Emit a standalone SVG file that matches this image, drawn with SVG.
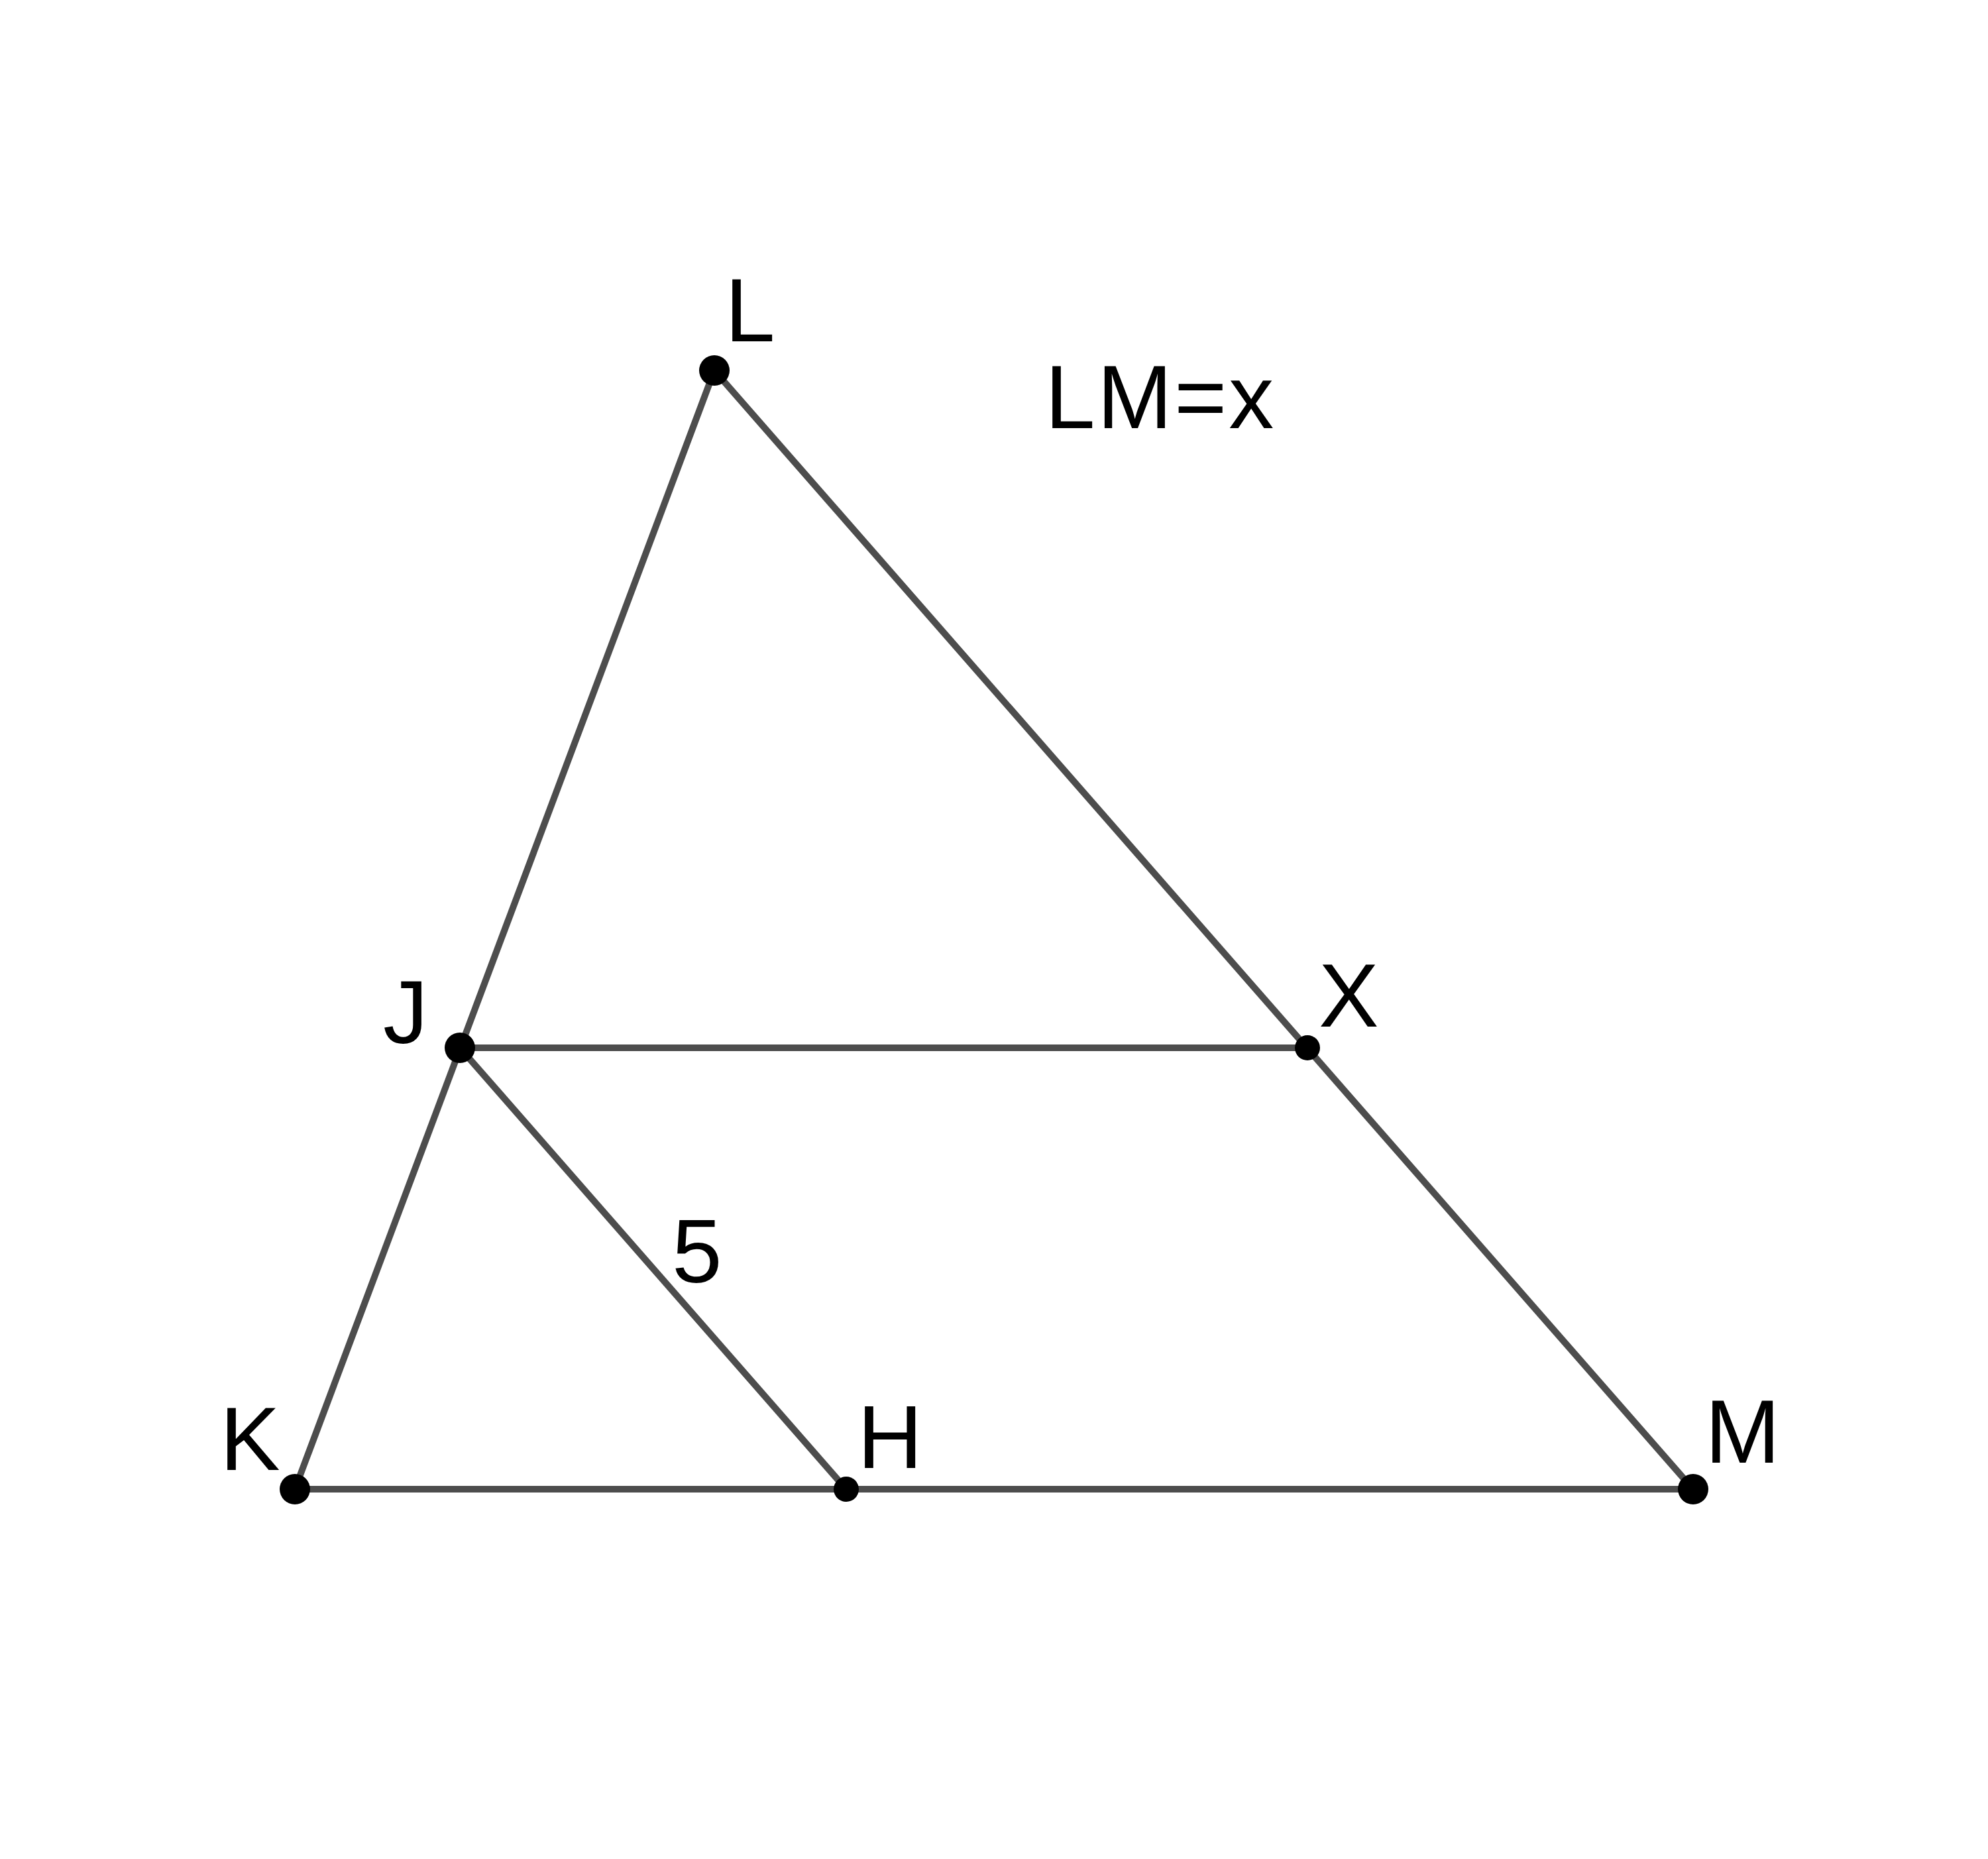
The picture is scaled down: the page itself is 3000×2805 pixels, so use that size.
<svg xmlns="http://www.w3.org/2000/svg" width="3000" height="2805" viewBox="0 0 3000 2805">
<style>
.e{stroke:#4d4d4d;stroke-width:10;fill:none;stroke-linecap:round}
.p{fill:#000}
.t{font-family:"Liberation Sans",Arial,sans-serif;font-size:136px;fill:#000}
</style>
<rect width="3000" height="2805" fill="#fff"/>
<g id="connectors">
<line class="e" x1="1078" y1="559" x2="445" y2="2247"/>
<line class="e" x1="1078" y1="559" x2="2555" y2="2247"/>
<line class="e" x1="694" y1="1581" x2="1973" y2="1581"/>
<line class="e" x1="694" y1="1581" x2="1277" y2="2247"/>
<line class="e" x1="445" y1="2247" x2="2555" y2="2247"/>
</g>
<g id="L"><circle class="p" cx="1078" cy="559" r="23"/><text class="t" x="1094" y="515">L</text></g>
<g id="J"><circle class="p" cx="694" cy="1581" r="23"/><text class="t" x="578" y="1574">J</text></g>
<g id="X"><circle class="p" cx="1973" cy="1581" r="19"/><text class="t" x="1990" y="1549">X</text></g>
<g id="K"><circle class="p" cx="445" cy="2247" r="23"/><text class="t" x="332" y="2218">K</text></g>
<g id="H"><circle class="p" cx="1277" cy="2247" r="19"/><text class="t" x="1294" y="2215">H</text></g>
<g id="M"><circle class="p" cx="2555" cy="2247" r="23"/><text class="t" x="2573" y="2207">M</text></g>
<g id="labels">
<text class="t" x="1577" y="646" letter-spacing="3">LM=x</text>
<text class="t" x="1014" y="1935">5</text>
</g>
</svg>
